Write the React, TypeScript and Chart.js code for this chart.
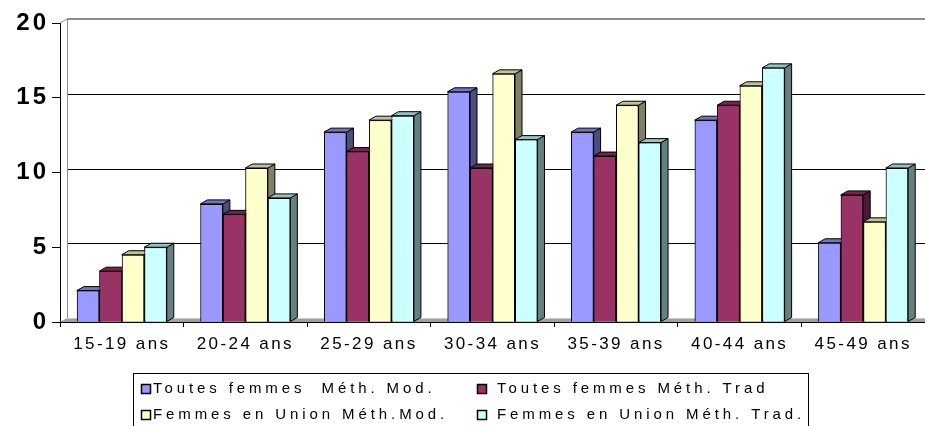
import { useEffect, useRef } from 'react';
import { Chart, registerables } from 'chart.js';

Chart.register(...registerables);

const categories = ['15-19 ans', '20-24 ans', '25-29 ans', '30-34 ans', '35-39 ans', '40-44 ans', '45-49 ans'];
const seriesLabels = [
  'Toutes femmes  Méth. Mod.',
  'Toutes femmes Méth. Trad',
  'Femmes en Union Méth.Mod.',
  'Femmes en Union Méth. Trad.',
];
const toutesMod = [2.1, 7.9, 12.7, 15.4, 12.7, 13.5, 5.3];
const toutesTrad = [3.4, 7.2, 11.4, 10.3, 11.1, 14.5, 8.5];
const unionMod = [4.5, 10.3, 13.5, 16.6, 14.5, 15.8, 6.7];
const unionTrad = [5.0, 8.3, 13.8, 12.2, 12.0, 17.0, 10.3];
const yMin = 0;
const yMax = 20;
const yStep = 5;

const FRONT = ['#9999FF', '#993366', '#FFFFCC', '#CCFFFF'];
const TOP = ['#7373C0', '#73264D', '#C0C099', '#99C0C0'];
const SIDE = ['#4D4D80', '#4D1A33', '#808066', '#668080'];
const DX = 7;
const DY = 4;
const FONT = "'Liberation Sans', Arial, sans-serif";

function patchSpacing(spacing: string) {
  return (scale: any) => {
    if (scale.__patched) return;
    const orig = scale.drawLabels.bind(scale);
    scale.drawLabels = (area: any) => {
      const ctx = scale.ctx as any;
      const prev = ctx.letterSpacing;
      ctx.letterSpacing = spacing;
      orig(area);
      ctx.letterSpacing = prev;
    };
    scale.__patched = true;
  };
}

function poly(ctx: CanvasRenderingContext2D, pts: number[][], fill: string) {
  ctx.beginPath();
  ctx.moveTo(pts[0][0], pts[0][1]);
  for (let k = 1; k < pts.length; k++) ctx.lineTo(pts[k][0], pts[k][1]);
  ctx.closePath();
  ctx.fillStyle = fill;
  ctx.fill();
  ctx.strokeStyle = '#000';
  ctx.lineWidth = 1;
  ctx.stroke();
}

const threeD = {
  id: 'threeD',
  beforeDatasetsDraw(chart: any) {
    const { ctx, chartArea: a, scales } = chart;
    const y = scales.y;
    const y0 = y.getPixelForValue(0);
    ctx.save();
    // floor
    ctx.fillStyle = '#a0a0a0';
    ctx.beginPath();
    ctx.moveTo(a.left, y0);
    ctx.lineTo(a.left + DX, y0 - DY);
    ctx.lineTo(a.right, y0 - DY);
    ctx.lineTo(a.right, y0);
    ctx.closePath();
    ctx.fill();
    ctx.strokeStyle = '#c8c8c8';
    ctx.lineWidth = 1;
    ctx.beginPath();
    ctx.moveTo(a.left + DX, Math.round(y0 - DY) + 0.5);
    ctx.lineTo(a.right, Math.round(y0 - DY) + 0.5);
    ctx.stroke();
    // back wall gridlines
    ctx.strokeStyle = '#000';
    ctx.lineWidth = 1;
    y.ticks.forEach((t: any) => {
      if (t.value === yMin || t.value === yMax) return;
      const py = Math.round(y.getPixelForValue(t.value) - DY) + 0.5;
      ctx.beginPath();
      ctx.moveTo(a.left + DX, py);
      ctx.lineTo(a.right, py);
      ctx.stroke();
    });
    // wall edges
    ctx.strokeStyle = '#909090';
    ctx.lineWidth = 1;
    ctx.beginPath();
    ctx.moveTo(a.left + DX + 0.5, a.top - DY);
    ctx.lineTo(a.left + DX + 0.5, y0 - DY);
    ctx.stroke();
    ctx.beginPath();
    ctx.moveTo(a.left, a.top);
    ctx.lineTo(a.left + DX, a.top - DY);
    ctx.stroke();
    ctx.lineWidth = 2;
    ctx.strokeStyle = '#8c8c8c';
    ctx.beginPath();
    ctx.moveTo(a.left + DX, a.top - DY);
    ctx.lineTo(a.right, a.top - DY);
    ctx.stroke();
    ctx.restore();
  },
  afterDatasetsDraw(chart: any) {
    const ctx = chart.ctx as CanvasRenderingContext2D;
    const n = chart.data.labels.length;
    ctx.save();
    for (let j = 0; j < n; j++) {
      for (let i = 0; i < chart.data.datasets.length; i++) {
        const el = chart.getDatasetMeta(i).data[j];
        const { x, y, base, width } = el.getProps(['x', 'y', 'base', 'width'], true);
        const xl = x - width / 2;
        const xr = x + width / 2;
        poly(ctx, [[xr, y], [xr + DX, y - DY], [xr + DX, base - DY], [xr, base]], SIDE[i]);
        poly(ctx, [[xl, y], [xl + DX, y - DY], [xr + DX, y - DY], [xr, y]], TOP[i]);
        el.draw(ctx);
      }
    }
    ctx.restore();
  },
};

const legendPlugin = {
  id: 'boxLegend',
  afterDraw(chart: any) {
    const ctx = chart.ctx as any;
    ctx.save();
    ctx.strokeStyle = '#000';
    ctx.lineWidth = 1;
    ctx.strokeRect(133.5, 373.5, 675, 60);
    const cells = [
      [141.5, 384.5, 153, 393],
      [477.5, 384.5, 497, 393],
      [141.5, 410.5, 153, 419],
      [477.5, 410.5, 497, 419],
    ];
    ctx.font = `15px ${FONT}`;
    ctx.letterSpacing = '3.9px';
    ctx.textBaseline = 'alphabetic';
    ctx.textAlign = 'left';
    chart.data.datasets.forEach((ds: any, i: number) => {
      const [mx, my, tx, ty] = cells[i];
      ctx.fillStyle = ds.backgroundColor;
      ctx.fillRect(mx, my, 9, 9);
      ctx.strokeStyle = '#000';
      ctx.lineWidth = 1.5;
      ctx.strokeRect(mx, my, 9, 9);
      ctx.fillStyle = '#000';
      ctx.fillText(ds.label, tx, ty);
    });
    ctx.restore();
  },
};

export default function App() {
  const ref = useRef<HTMLCanvasElement | null>(null);
  useEffect(() => {
    document.body.style.margin = '0';
    if (!ref.current) return;
    const series = [toutesMod, toutesTrad, unionMod, unionTrad];
    const chart = new Chart(ref.current, {
      type: 'bar',
      data: {
        labels: categories,
        datasets: series.map((d, i) => ({
          label: seriesLabels[i],
          data: d,
          backgroundColor: FRONT[i],
          borderColor: '#000',
          borderWidth: 1,
          categoryPercentage: 0.728,
          barPercentage: 1,
        })),
      },
      options: {
        animation: false,
        responsive: false,
        devicePixelRatio: 1,
        layout: { padding: { top: 23, left: 0, right: 0, bottom: 0 } },
        plugins: { legend: { display: false }, tooltip: { enabled: false } },
        scales: {
          x: {
            type: 'category',
            grid: { display: true, drawOnChartArea: false, drawTicks: true, tickLength: 5, color: '#000', offset: true },
            border: { display: true, color: '#000', width: 1 },
            ticks: { font: { family: FONT, size: 17 }, color: '#000', padding: 7, maxRotation: 0, autoSkip: false },
            afterFit: (s: any) => { s.height = 104; },
            afterUpdate: patchSpacing('2.4px'),
          },
          y: {
            min: yMin,
            max: yMax,
            ticks: { stepSize: yStep, font: { family: FONT, size: 24, weight: 'bold' }, color: '#000', padding: 3 },
            grid: { drawOnChartArea: false, drawTicks: true, tickLength: 8, color: '#000' },
            border: { display: true, color: '#000', width: 1 },
            afterFit: (s: any) => { s.width = 60; },
            afterUpdate: patchSpacing('3px'),
          },
        },
      },
      plugins: [threeD, legendPlugin],
    } as any);
    return () => chart.destroy();
  }, []);
  return (
    <div style={{ width: 925, height: 426, position: 'relative', background: '#fff' }}>
      <canvas ref={ref} width={925} height={426} />
    </div>
  );
}
